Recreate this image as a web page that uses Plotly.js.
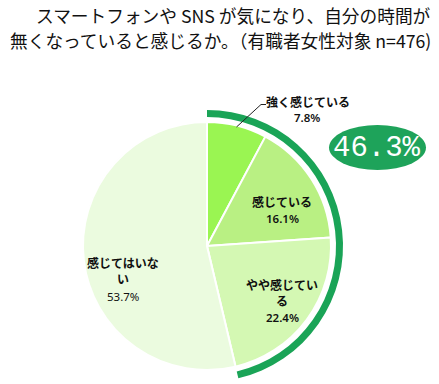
<!DOCTYPE html>
<html><head><meta charset="utf-8">
<script src="https://cdn.plot.ly/plotly-3.0.1.min.js"></script>
<style>html,body{margin:0;padding:0;background:#fff}#chart{width:439px;height:384px}</style>
</head><body><div id="chart"></div>
<script>
const categories = ['強く感じている', '感じている', 'やや感じている', '感じてはいない'];
const labelLines = ['強く感じている', '感じている', 'やや感じてい<br>る', '感じてはいな<br>い'];
const values = [7.8, 16.1, 22.4, 53.7];
const sliceColors = ['#9af552', '#b9f083', '#d4f8b3', '#ebfbdf'];
const titleLines = ['スマートフォンや SNS が気になり、自分の時間が', '無くなっていると感じるか。（有職者女性対象 n=476)'];

const W = 439, H = 384;
const px = x => x / W, py = y => 1 - y / H;
const cx = 207, cy = 246, r = 124, ringOuter = 136, ringInner = 129;

const feelSum = Math.round((values[0] + values[1] + values[2]) * 10) / 10;
const restSum = Math.round(values[3] * 10) / 10;

const pie = {
  type: 'pie', labels: categories, values: values, sort: false, direction: 'clockwise', rotation: 0,
  marker: {colors: sliceColors, line: {color: '#ffffff', width: 2}},
  textinfo: 'none', hoverinfo: 'label+percent', showlegend: false,
  domain: {x: [px(cx - r), px(cx + r)], y: [py(cy + r), py(cy - r)]}
};
const ring = {
  type: 'pie', labels: ['感じている計', 'その他'], values: [feelSum, restSum], sort: false,
  direction: 'clockwise', rotation: 0, hole: ringInner / ringOuter,
  marker: {colors: ['#1aa457', 'rgba(0,0,0,0)'], line: {width: 0}},
  textinfo: 'none', hoverinfo: 'skip', showlegend: false,
  domain: {x: [px(cx - ringOuter), px(cx + ringOuter)], y: [py(cy + ringOuter), py(cy - ringOuter)]}
};

const lblFont = {family: '"Noto Sans CJK JP", sans-serif', size: 12, color: '#111', weight: 600};
const pctFont = {family: '"Noto Sans", sans-serif', size: 11.5, color: '#111', weight: 600};
const titleFont = {family: '"Noto Sans CJK JP", sans-serif', size: 17.7, color: '#111'};
const fmt = v => v.toFixed(1) + '%';

const annotations = [
  {x: px(433), y: py(15), text: titleLines[0], font: titleFont, xanchor: 'right'},
  {x: px(433), y: py(40), text: titleLines[1], font: titleFont, xanchor: 'right'},
  {x: px(308), y: py(101.5), text: labelLines[0], font: lblFont},
  {x: px(307), y: py(117.5), text: fmt(values[0]), font: pctFont},
  {x: px(282), y: py(201.5), text: labelLines[1], font: lblFont},
  {x: px(282), y: py(218.5), text: fmt(values[1]), font: pctFont},
  {x: px(282), y: py(292), text: labelLines[2], font: lblFont},
  {x: px(282), y: py(317), text: fmt(values[2]), font: pctFont},
  {x: px(123), y: py(270.5), text: labelLines[3], font: lblFont},
  {x: px(123), y: py(296), text: fmt(values[3]), font: {...pctFont, weight: 400}},
  {x: px(377), y: py(148), text: fmt(feelSum), font: {family: '"Liberation Mono", monospace', size: 29, color: '#ffffff'}}
].map(a => Object.assign({xref: 'paper', yref: 'paper', showarrow: false, xanchor: 'center', yanchor: 'middle', align: 'center'}, a));

const shapes = [
  {type: 'circle', xref: 'paper', yref: 'paper', x0: px(329), x1: px(426), y0: py(170), y1: py(125),
   fillcolor: '#1ea35a', line: {width: 0}},
  {type: 'path', xref: 'paper', yref: 'paper',
   path: `M ${px(236.5)} ${py(127)} L ${px(261)} ${py(104.5)} L ${px(266)} ${py(104.5)}`,
   line: {color: '#222', width: 1}}
];

const layout = {
  width: W, height: H, margin: {l: 0, r: 0, t: 0, b: 0},
  paper_bgcolor: '#ffffff', plot_bgcolor: '#ffffff',
  annotations: annotations, shapes: shapes, showlegend: false
};
Plotly.newPlot('chart', [pie, ring], layout, {displayModeBar: false, staticPlot: true});
</script></body></html>
